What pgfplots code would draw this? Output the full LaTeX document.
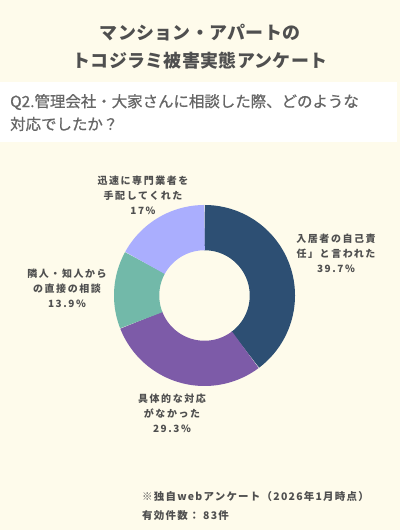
\documentclass[border=0pt]{standalone}
\usepackage{pgfplots}
\pgfplotsset{compat=1.18}
\usepgfplotslibrary{polar}
\usepackage{fontspec}
\setmainfont{Noto Sans CJK JP}

\definecolor{bgcream}{HTML}{FEFBEB}
\definecolor{txtgray}{HTML}{4F4F4F}
\definecolor{qgray}{HTML}{666666}
\definecolor{cnavy}{HTML}{2D4F73}
\definecolor{cpurple}{HTML}{7D5BA8}
\definecolor{cteal}{HTML}{72B9A9}
\definecolor{clav}{HTML}{AAAEFE}

% shares of answers (%), clockwise from the top
\def\pA{39.7}% 入居者の自己責任
\def\pB{29.3}% 具体的な対応がなかった
\def\pC{13.9}% 隣人・知人からの直接の相談
\def\pD{17.0}% 迅速に専門業者を手配してくれた
\pgfmathsetmacro\tot{\pA+\pB+\pC+\pD}
\pgfmathsetmacro\aA{90}
\pgfmathsetmacro\aB{\aA-360*\pA/\tot}
\pgfmathsetmacro\aC{\aB-360*\pB/\tot}
\pgfmathsetmacro\aD{\aC-360*\pC/\tot}
\pgfmathsetmacro\aE{\aD-360*\pD/\tot}

\newcommand\lbl{\fontsize{10}{15}\selectfont\bfseries\addfontfeatures{LetterSpace=16}}

\begin{document}
\begin{tikzpicture}[x=1bp,y=1bp]
  \fill[bgcream] (0,0) rectangle (400,530);
  \useasboundingbox (0,0) rectangle (400,530);
  % title
  \node[txtgray,font=\fontsize{18}{20}\selectfont\bfseries\addfontfeatures{LetterSpace=2}] at (200,497) {マンション・アパートの};
  \node[txtgray,font=\fontsize{18}{20}\selectfont\bfseries\addfontfeatures{LetterSpace=2}] at (200,469) {トコジラミ被害実態アンケート};
  % question band
  \fill[white] (0,388) rectangle (397,448);
  \node[qgray,anchor=west,inner sep=0pt,font=\fontsize{15.5}{18}\selectfont\addfontfeatures{FakeBold=0.8}] at (10,428) {Q2.管理会社・大家さんに相談した際、どのような};
  \node[qgray,anchor=west,inner sep=0pt,font=\fontsize{15.5}{18}\selectfont\addfontfeatures{FakeBold=0.8}] at (10,406) {対応でしたか？};

  \begin{polaraxis}[
      at={(204.5bp,234.5bp)},
      anchor=origin,
      width=181bp,
      height=181bp,
      scale only axis,
      hide axis,
      ymin=0,
      ymax=1,
      clip=false,
      line cap=butt,
    ]
    \addplot[cnavy,line width=45.25bp,no markers,domain=\aB:\aA,samples=90] {0.75};
    \addplot[cpurple,line width=45.25bp,no markers,domain=\aC:\aB,samples=70] {0.75};
    \addplot[cteal,line width=45.25bp,no markers,domain=\aD:\aC,samples=40] {0.75};
    \addplot[clav,line width=45.25bp,no markers,domain=\aE:\aD,samples=50] {0.75};
  \end{polaraxis}

  % slice labels
  \node[txtgray,align=center,font=\lbl] at (336,277) {入居者の自己責\\任」と言われた\\39.7\%};
  \node[txtgray,align=center,font=\lbl] at (143,335) {迅速に専門業者を\\手配してくれた\\17\%};
  \node[txtgray,align=center,font=\lbl] at (67,242) {隣人・知人から\\の直接の相談\\13.9\%};
  \node[txtgray,align=center,font=\lbl] at (172,116.5) {具体的な対応\\がなかった\\29.3\%};

  % footer
  \node[txtgray,anchor=west,inner sep=0pt,font=\fontsize{10.5}{12}\selectfont\bfseries\addfontfeatures{LetterSpace=12}] at (142,33) {※独自webアンケート（2026年1月時点）};
  \node[txtgray,anchor=west,inner sep=0pt,font=\fontsize{10.5}{12}\selectfont\bfseries\addfontfeatures{LetterSpace=12}] at (142,14) {有効件数： 83件};
\end{tikzpicture}
\end{document}
